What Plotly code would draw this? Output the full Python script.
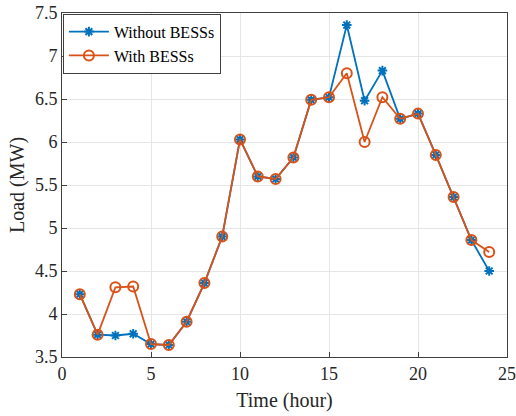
import plotly.graph_objects as go

hours = list(range(1, 25))
without_bess = [4.23, 3.76, 3.75, 3.77, 3.65, 3.64, 3.91, 4.36, 4.90, 6.03, 5.60, 5.57,
                5.82, 6.49, 6.52, 7.36, 6.48, 6.83, 6.27, 6.33, 5.85, 5.36, 4.86, 4.50]
with_bess = [4.23, 3.76, 4.31, 4.32, 3.65, 3.64, 3.91, 4.36, 4.90, 6.03, 5.60, 5.57,
             5.82, 6.49, 6.52, 6.80, 6.00, 6.52, 6.27, 6.33, 5.85, 5.36, 4.86, 4.72]
x_ticks = [0, 5, 10, 15, 20, 25]
y_ticks = [3.5, 4, 4.5, 5, 5.5, 6, 6.5, 7, 7.5]

blue = "#0072BD"
orange = "#D95319"
font = "Liberation Serif"

fig = go.Figure()
fig.add_trace(go.Scatter(x=hours, y=without_bess, mode="lines+markers", name="Without BESSs",
                         line=dict(color=blue, width=1.8),
                         marker=dict(symbol="asterisk", size=8, color=blue,
                                     line=dict(color=blue, width=2))))
fig.add_trace(go.Scatter(x=hours, y=with_bess, mode="lines+markers", name="With BESSs",
                         line=dict(color=orange, width=1.8),
                         marker=dict(symbol="circle-open", size=10, color=orange,
                                     line=dict(color=orange, width=2))))

axis_common = dict(showgrid=True, gridcolor="#E6E6E6", gridwidth=1, showline=True,
                   linecolor="#404040", linewidth=1, mirror=True, ticks="inside",
                   ticklen=5, tickcolor="#404040", zeroline=False, automargin=False,
                   tickfont=dict(family=font, size=18, color="#262626"))

fig.update_xaxes(range=[0, 25], tickvals=x_ticks, **axis_common,
                 title=dict(text="Time (hour)", font=dict(family=font, size=20, color="#262626"), standoff=10))
fig.update_yaxes(range=[3.5, 7.5], tickvals=y_ticks, ticktext=[f"{v:g}" for v in y_ticks], **axis_common,
                 title=dict(text="Load (MW)", font=dict(family=font, size=20, color="#262626"), standoff=4))

fig.update_layout(
    width=516, height=416,
    margin=dict(l=62, r=9, t=13, b=59),
    plot_bgcolor="white", paper_bgcolor="white",
    font=dict(family=font, color="#262626"),
    legend=dict(x=0.002, y=0.998, xanchor="left", yanchor="top",
                bgcolor="white", bordercolor="#404040", borderwidth=1,
                font=dict(family=font, size=16, color="#000000"),
                tracegroupgap=0, itemwidth=40),
)

fig.write_html("out.html", config={"displayModeBar": False},
               post_script="document.body.style.margin='0';document.body.style.overflow='hidden';")
